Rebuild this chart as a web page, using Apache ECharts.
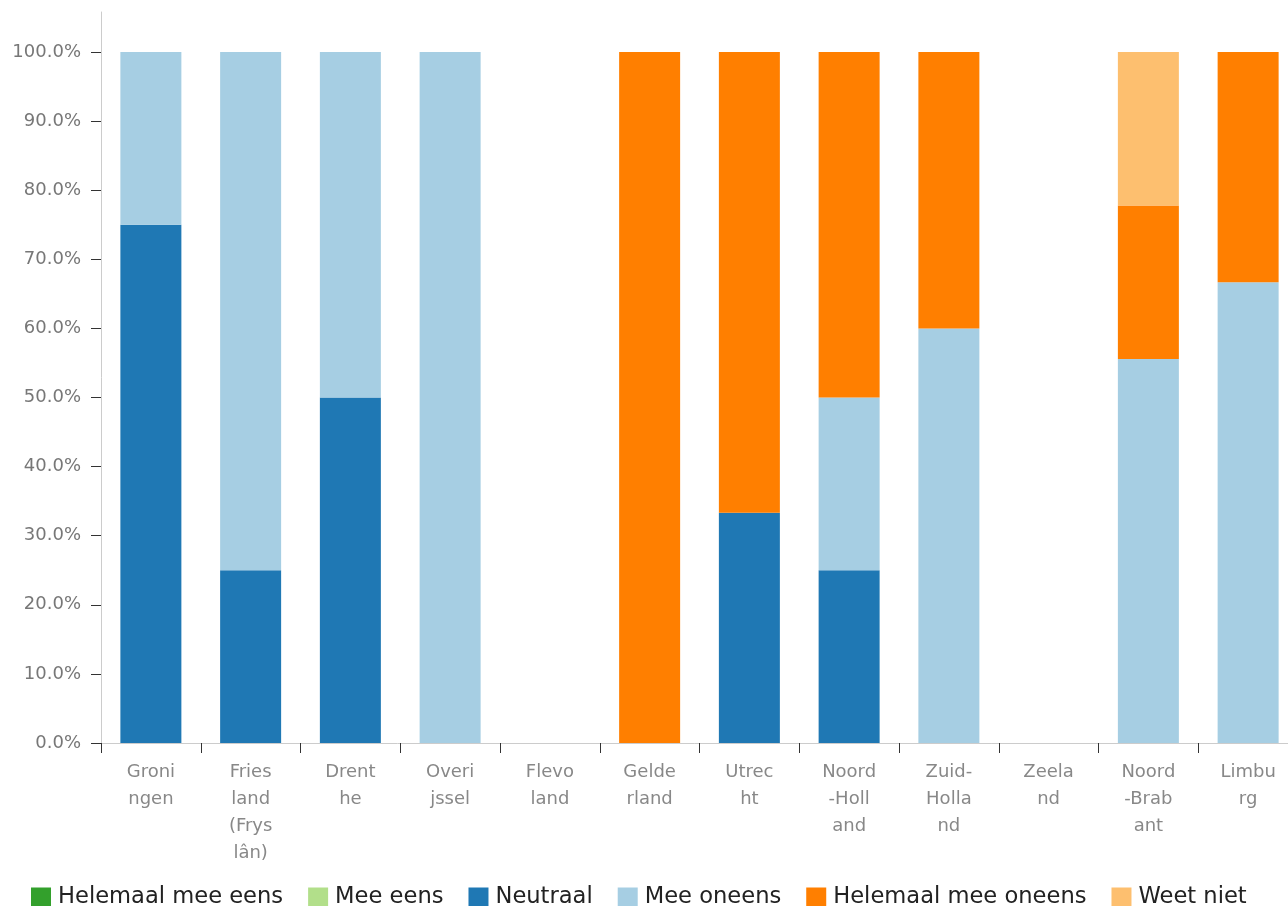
<!DOCTYPE html>
<html>
<head>
<meta charset="utf-8">
<script src="https://cdn.jsdelivr.net/npm/echarts@6/dist/echarts.min.js"></script>
<style>html,body{margin:0;padding:0;background:#fff;}#chart{width:1288px;height:906px;}</style>
</head>
<body>
<div id="chart"></div>
<script>
const categories = ["Groningen", "Friesland (Fryslân)", "Drenthe", "Overijssel", "Flevoland", "Gelderland", "Utrecht", "Noord-Holland", "Zuid-Holland", "Zeeland", "Noord-Brabant", "Limburg"];
const seriesNames = ["Helemaal mee eens", "Mee eens", "Neutraal", "Mee oneens", "Helemaal mee oneens", "Weet niet"];
const helemaalMeeEens = [null, null, null, null, null, null, null, null, null, null, null, null];
const meeEens = [null, null, null, null, null, null, null, null, null, null, null, null];
const neutraal = [75, 25, 50, null, null, null, 33.33, 25, null, null, null, null];
const meeOneens = [25, 75, 50, 100, null, null, null, 25, 60, null, 55.56, 66.67];
const helemaalMeeOneens = [null, null, null, null, null, 100, 66.67, 50, 40, null, 22.22, 33.33];
const weetNiet = [null, null, null, null, null, null, null, null, null, null, 22.22, null];
const yTickValues = [0, 10, 20, 30, 40, 50, 60, 70, 80, 90, 100];
const colors = ["#33a02c", "#b2df8a", "#1f78b4", "#a6cee3", "#ff7f00", "#fdbf6f"];

const allData = [helemaalMeeEens, meeEens, neutraal, meeOneens, helemaalMeeOneens, weetNiet];

function wrap(s) {
  const out = [];
  for (let i = 0; i < s.length; i += 5) out.push(s.slice(i, i + 5).trim());
  return out.join('\n');
}

const chart = echarts.init(document.getElementById('chart'));
chart.setOption({
  animation: false,
  color: colors,
  grid: { left: 101, top: 12, bottom: 163, width: 1197, containLabel: false, outerBoundsMode: 'none' },
  legend: {
    top: 881,
    left: 26,
    itemWidth: 20,
    itemHeight: 20,
    itemGap: 25,
    icon: 'rect',
    textStyle: { fontFamily: 'DejaVu Sans, sans-serif', fontSize: 22.6, color: '#222', padding: [0, 0, 0, 2] },
    data: seriesNames
  },
  xAxis: {
    type: 'category',
    data: categories,
    axisLine: { lineStyle: { color: '#cccccc', width: 1 } },
    axisTick: { show: true, length: 10, lineStyle: { color: '#333' } },
    axisLabel: {
      interval: 0,
      margin: 16,
      fontFamily: 'DejaVu Sans, sans-serif',
      fontSize: 18,
      lineHeight: 27,
      color: '#888',
      formatter: wrap
    }
  },
  yAxis: {
    type: 'value',
    min: 0,
    max: 105.8,
    splitLine: { show: false },
    axisLine: { show: true, lineStyle: { color: '#cccccc', width: 1 } },
    axisTick: { show: true, length: 10, customValues: yTickValues, lineStyle: { color: '#333' } },
    axisLabel: {
      customValues: yTickValues,
      margin: 20,
      fontFamily: 'DejaVu Sans, sans-serif',
      fontSize: 18,
      color: '#777',
      formatter: v => v.toFixed(1) + '%'
    }
  },
  series: seriesNames.map((name, i) => ({
    name: name,
    type: 'bar',
    stack: 'total',
    barWidth: 61,
    data: allData[i]
  }))
});
</script>
</body>
</html>
